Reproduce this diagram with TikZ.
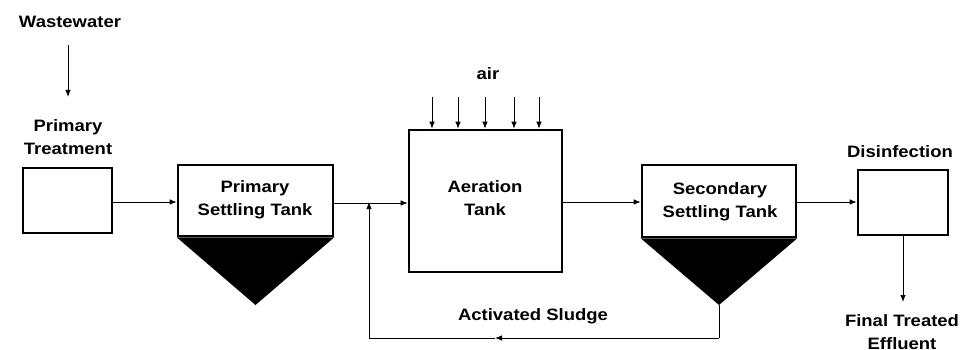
\documentclass[tikz,border=0pt]{standalone}
\usepackage{fontspec}
\setmainfont{Liberation Sans}[FakeStretch=1.12]
\usetikzlibrary{arrows.meta}
\begin{document}
\begin{tikzpicture}[x=1pt,y=-1pt,
  lbl/.style={font=\fontsize{16.5}{23}\selectfont\bfseries, align=center, inner sep=0pt},
  box/.style={draw, line width=2.6pt, fill=white, inner sep=0pt},
  arr/.style={line width=0.9pt, -{Latex[length=7pt,width=5.5pt]}},
  ln/.style={line width=0.9pt}]
\useasboundingbox (0,0) rectangle (967,350);
% labels
\node[lbl] (ww) at (70,22) {Wastewater};
\coordinate (wwa) at (68,45);
\coordinate (wwb) at (68,97);
\draw[arr] (wwa) -- (wwb);
\node[lbl] (ptl) at (68,137) {Primary\\Treatment};
\node[box, minimum width=89pt, minimum height=65pt] (pt) at (67.5,200.5) {};
% primary settling tank
\coordinate (apex1) at (255.5,305);
\node[box, minimum width=155pt, minimum height=71pt] (pst) at (255.5,200.5) {};
\fill (pst.south west) -- (pst.south east) -- (apex1) -- cycle;
\node[lbl] (pstl) at (255,200) {Primary\\Settling Tank};
% aeration tank
\node[box, minimum width=153pt, minimum height=142pt] (at) at (485.5,201) {};
\node[lbl] (atl) at (485,198) {Aeration\\Tank};
\node[lbl] (air) at (488,74) {air};
\foreach \i/\xx in {1/432,2/458,3/485,4/514,5/539}{
  \coordinate (a\i) at (\xx,97);
  \draw[arr] (a\i) -- (a\i |- at.north);
}
% secondary settling tank
\coordinate (apex2) at (719,305);
\node[box, minimum width=154pt, minimum height=72pt] (sst) at (719,201) {};
\fill (sst.south west) -- (sst.south east) -- (apex2) -- cycle;
\node[lbl] (sstl) at (720,202) {Secondary\\Settling Tank};
% disinfection
\node[lbl] (disl) at (900,152) {Disinfection};
\node[box, minimum width=90pt, minimum height=65pt] (dis) at (903,202.5) {};
\coordinate (eff) at (903,302);
\node[lbl] (effl) at (902,332) {Final Treated\\Effluent};
% main flow
\coordinate (j) at (369,203);
\draw[arr] (pt.east |- 0,202) -- (pst.west |- 0,202);
\draw[arr] (pst.east |- 0,203) -- (at.west |- 0,203);
\draw[arr] (at.east |- 0,202) -- (sst.west |- 0,202);
\draw[arr] (sst.east |- 0,202) -- (dis.west |- 0,202);
\draw[arr] (dis.south) -- (eff);
% return sludge
\coordinate (r1) at (719,338);
\coordinate (rm) at (495,338);
\coordinate (r2) at (369,338);
\draw[ln] (apex2) -- (r1);
\draw[arr] (r1) -- (rm);
\draw[ln] (rm) -- (r2);
\draw[arr] (r2) -- ([yshift=1pt]j);
\node[lbl] (asl) at (533,316) {Activated Sludge};
\end{tikzpicture}
\end{document}
